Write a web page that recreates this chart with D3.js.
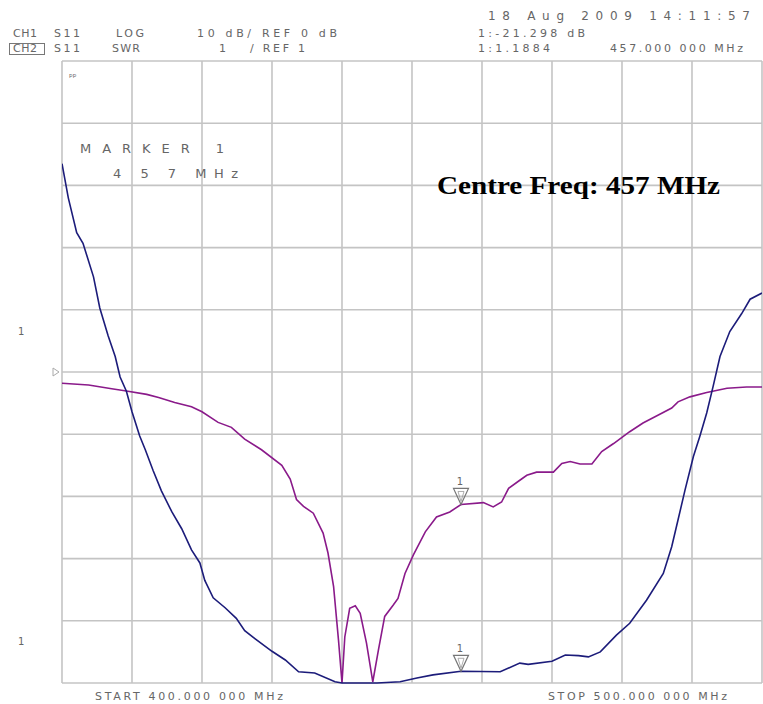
<!DOCTYPE html>
<html>
<head>
<meta charset="utf-8">
<script src="https://cdn.jsdelivr.net/npm/d3@7"></script>
<style>
  body { margin: 0; background: #fff; }
  .lbl { font-family: "DejaVu Sans", sans-serif; font-size: 11px; fill: #666; }
</style>
</head>
<body>
<div id="chart"></div>
<script>
// CH1: S11 log magnitude (dB)
const freqCh1 = [400.0, 403.8, 407.1, 409.2, 412.1, 413.8, 416.1, 418.5, 420.0, 422.3, 424.2, 426.1,
  428.5, 431.4, 432.6, 433.5, 434.5, 435.9, 437.3, 438.0, 438.8, 439.5, 440.0, 440.4, 441.1, 441.9,
  442.6, 443.5, 444.4, 445.2, 446.1, 447.3, 448.0, 449.0, 450.2, 451.9, 453.5, 455.4, 457.0, 460.2,
  461.6, 462.8, 463.8, 465.4, 466.4, 467.8, 470.2, 471.4, 472.6, 474.0, 475.7, 477.1, 478.8, 481.1,
  483.0, 485.4, 487.1, 488.0, 489.7, 492.1, 495.0, 497.8, 500.0];
const ch1Db = [-1.8, -2.1, -2.7, -3.05, -3.6, -4.1, -4.9, -5.6, -6.4, -8.1, -8.9, -10.8,
  -12.5, -15.0, -17.2, -20.5, -21.6, -22.7, -25.9, -29.1, -34.5, -43.1, -50, -42.6, -38.0, -37.6,
  -38.8, -43.6, -49.8, -44.7, -39.3, -37.5, -36.4, -32.4, -29.4, -25.7, -23.3, -22.5, -21.3, -21.0,
  -21.7, -20.9, -18.7, -17.4, -16.6, -16.1, -16.1, -14.7, -14.4, -14.8, -14.8, -12.8, -11.5, -9.6,
  -8.2, -6.8, -5.8, -4.8, -4.0, -3.3, -2.6, -2.4, -2.4];

// CH2: S11 SWR
const freqCh2 = [400.0, 400.9, 402.1, 403.0, 404.5, 405.4, 406.6, 407.6, 408.3, 409.2, 410.0, 411.1,
  411.9, 413.0, 414.2, 415.7, 417.1, 418.5, 419.7, 420.4, 421.6, 423.3, 424.9, 426.1, 427.6, 430.0,
  431.9, 433.8, 436.1, 439.0, 440.0, 445.0, 448.3, 450.7, 453.0, 457.0, 462.6, 465.4, 466.6, 470.0,
  471.9, 473.8, 475.2, 476.9, 479.2, 481.1, 483.5, 485.9, 487.1, 488.0, 489.0, 490.2, 491.1, 492.1,
  493.0, 494.0, 495.4, 497.1, 498.3, 500.0];
const ch2Swr = [9.35, 8.80, 8.24, 8.07, 7.53, 7.03, 6.58, 6.25, 5.92, 5.69, 5.36, 4.97,
  4.75, 4.42, 4.09, 3.75, 3.48, 3.14, 2.93, 2.65, 2.37, 2.21, 2.04, 1.84, 1.71, 1.51,
  1.37, 1.18, 1.16, 1.02, 1.00, 1.00, 1.02, 1.08, 1.13, 1.19, 1.18, 1.32, 1.30, 1.35,
  1.45, 1.44, 1.42, 1.50, 1.77, 1.96, 2.33, 2.76, 3.19, 3.62, 4.10, 4.64, 4.96, 5.34,
  5.76, 6.25, 6.65, 6.94, 7.17, 7.27];

const markerFreq = 457;
const markerDb = -21.298;
const markerSwr = 1.1884;

const W = 763, H = 704;
const plot = {left: 62, right: 762, top: 61, bottom: 683};

const svg = d3.select("#chart").append("svg")
  .attr("width", W).attr("height", H);

const x = d3.scaleLinear().domain([400, 500]).range([plot.left, plot.right]);
const yDb = d3.scaleLinear().domain([-50, 50]).range([plot.bottom, plot.top]);
const ySwr = d3.scaleLinear().domain([1, 11]).range([plot.bottom, plot.top]);

// grid
const grid = svg.append("g").attr("stroke", "#c4c4c4").attr("stroke-width", 1.6);
grid.selectAll("line.v").data(x.ticks(10)).enter().append("line")
  .attr("x1", d => x(d)).attr("x2", d => x(d))
  .attr("y1", plot.top).attr("y2", plot.bottom);
grid.selectAll("line.h").data(yDb.ticks(10)).enter().append("line")
  .attr("y1", d => yDb(d)).attr("y2", d => yDb(d))
  .attr("x1", plot.left).attr("x2", plot.right);

svg.append("clipPath").attr("id", "clip").append("rect")
  .attr("x", plot.left).attr("y", plot.top - 1)
  .attr("width", plot.right - plot.left).attr("height", plot.bottom - plot.top + 3);

const line1 = d3.line().x((d, i) => x(freqCh1[i])).y(d => yDb(d));
const line2 = d3.line().x((d, i) => x(freqCh2[i])).y(d => ySwr(d));

svg.append("path").datum(ch1Db)
  .attr("clip-path", "url(#clip)")
  .attr("d", line1).attr("fill", "none")
  .attr("stroke", "#8a1a8a").attr("stroke-width", 1.6);

svg.append("path").datum(ch2Swr)
  .attr("clip-path", "url(#clip)")
  .attr("d", line2).attr("fill", "none")
  .attr("stroke", "#1c1c7a").attr("stroke-width", 1.6);

// markers
function marker(px, py) {
  const g = svg.append("g").attr("transform", `translate(${px},${py})`);
  g.append("path").attr("d", "M-7.5,-16 L7.5,-16 L0,0 Z")
    .attr("fill", "none").attr("stroke", "#777").attr("stroke-width", 1.2);
  g.append("path").attr("d", "M-3,-13 L3,-13 L0,-3 Z")
    .attr("fill", "none").attr("stroke", "#999").attr("stroke-width", 0.8);
  g.append("text").attr("class", "lbl").attr("x", -1).attr("y", -19)
    .attr("text-anchor", "middle").style("font-size", "10px").text("1");
}
marker(x(markerFreq), yDb(markerDb));
marker(x(markerFreq), ySwr(markerSwr));

// instrument text, stretched to the widths seen on the screen
function txt(tx, ty, s, len, size) {
  const t = svg.append("text").attr("class", "lbl").attr("x", tx).attr("y", ty).text(s);
  if (len) t.attr("textLength", len).attr("lengthAdjust", "spacing");
  if (size) t.style("font-size", size);
  return t;
}
txt(488, 20, "18 Aug 2009  14:11:57", 262, "12px");
txt(13, 37, "CH1", 24);
txt(54, 37, "S11", 26);
txt(116, 37, "LOG", 28);
txt(197, 37, "10 dB/ REF 0 dB", 140);
txt(478, 37, "1:-21.298 dB", 107);
txt(13, 52, "CH2", 24);
svg.append("rect").attr("x", 9.5).attr("y", 43.5).attr("width", 35).attr("height", 11)
  .attr("fill", "none").attr("stroke", "#777").attr("stroke-width", 1);
txt(54, 52, "S11", 26);
txt(112, 52, "SWR", 28);
txt(219, 52, "1");
txt(250, 52, "/ REF 1", 55);
txt(478, 52, "1:1.1884", 72);
txt(610, 52, "457.000 000 MHz", 133);

// marker block
txt(80, 153, "MARKER 1", 144, "13px");
txt(113, 178, "4 5 7   MHz", 125, "13px");
txt(69, 80, "ᵖᵖ", null, "9px");

// left reference symbols
txt(18, 335, "1", null, "10px");
txt(18, 645, "1", null, "10px");
svg.append("path").attr("d", `M53,${yDb(0) - 4} L59,${yDb(0)} L53,${yDb(0) + 4} Z`)
  .attr("fill", "none").attr("stroke", "#aaa").attr("stroke-width", 1);

// start / stop
txt(95, 700, "START 400.000 000 MHz", 188);
txt(548, 700, "STOP 500.000 000 MHz", 179);

// annotation
svg.append("text").attr("x", 437).attr("y", 194)
  .style("font-family", "'Liberation Serif', 'Times New Roman', serif")
  .style("font-weight", "bold").style("font-size", "25px")
  .attr("textLength", 283).attr("lengthAdjust", "spacingAndGlyphs")
  .attr("fill", "#000").text("Centre Freq: 457 MHz");
</script>
</body>
</html>
